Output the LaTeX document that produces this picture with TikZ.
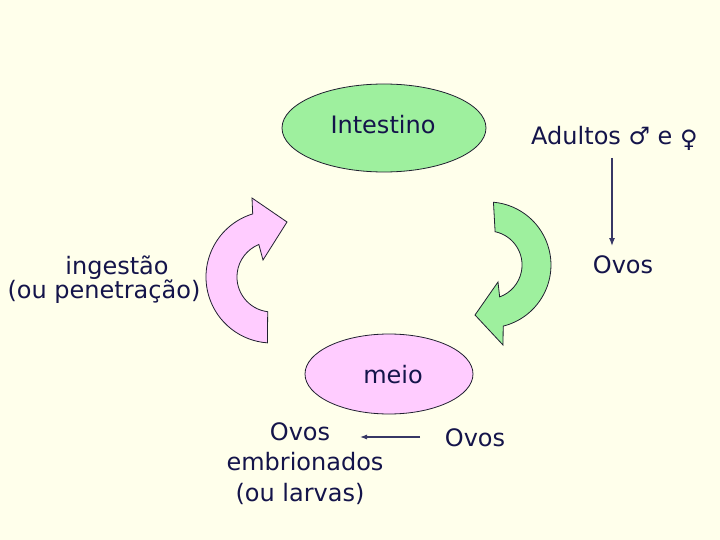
\documentclass[tikz,border=0pt]{standalone}
\usepackage{fontspec}
\setmainfont{DejaVu Sans}
\usetikzlibrary{arrows.meta}
\definecolor{bg}{HTML}{FFFFEB}
\definecolor{ink}{HTML}{14144A}
\definecolor{gfill}{HTML}{9EF09E}
\definecolor{pfill}{HTML}{FFCCFF}
\definecolor{edge}{HTML}{202030}
\begin{document}
\begin{tikzpicture}[x=1pt,y=-1pt,
  txt/.style={font=\fontsize{24}{29}\selectfont, text=ink, inner sep=0pt, anchor=base},
  arr/.style={draw=ink!85, line width=1.3pt, -{Latex[length=8pt,width=6pt]}},
  shapeline/.style={draw=edge, line width=0.8pt}]
\fill[bg] (0,0) rectangle (720,540);
\useasboundingbox (0,0) rectangle (720,540);

% ellipses
\draw[shapeline, fill=gfill] (384,128) ellipse [x radius=102, y radius=44];
\draw[shapeline, fill=pfill] (389,374) ellipse [x radius=84, y radius=40];

% texts
\node[txt] (intestino) at (383,134) {Intestino};
\node[txt] (meio) at (393,383) {meio};
\node[txt, anchor=base west] (adultos) at (531,145) {Adultos ♂ e \raisebox{-3pt}{♀}};
\node[txt] (ovos1) at (623,273) {Ovos};
\node[txt] (ing1) at (117,274) {ingestão};
\node[txt] (ing2) at (104,298) {(ou penetração)};
\node[txt] (ovos2) at (475,446) {Ovos};
\node[txt] (emb1) at (300,440) {Ovos};
\node[txt] (emb2) at (305,470) {embrionados};
\node[txt] (emb3) at (300,501) {(ou larvas)};

% connectors
\coordinate (vtop) at (612,158);
\coordinate (vbot) at (612,246);
\draw[arr] (vtop) -- (vbot);
\coordinate (hstart) at (420,437);
\coordinate (hend) at (360,437);
\draw[arr, line width=1.1pt, -{Latex[length=7pt,width=5pt]}] (hstart) -- (hend);

% pink curved arrow (left), centre (272,277)
\draw[shapeline, fill=pfill]
  (267.7,311.7) arc[start angle=97, end angle=248, radius=35]
  -- (263,260) -- (287,222) -- (252,198) -- (252.7,213.9)
  arc[start angle=253, end angle=94, radius=66]
  -- cycle;

% green curved arrow (right), centre (488,265)
\draw[shapeline, fill=gfill]
  (495.1,231.7) arc[start angle=-78, end angle=70, radius=34]
  -- (498,282) -- (475,315) -- (503,345) -- (503.2,326.1)
  arc[start angle=76, end angle=-85, radius=63]
  -- cycle;
\end{tikzpicture}
\end{document}
